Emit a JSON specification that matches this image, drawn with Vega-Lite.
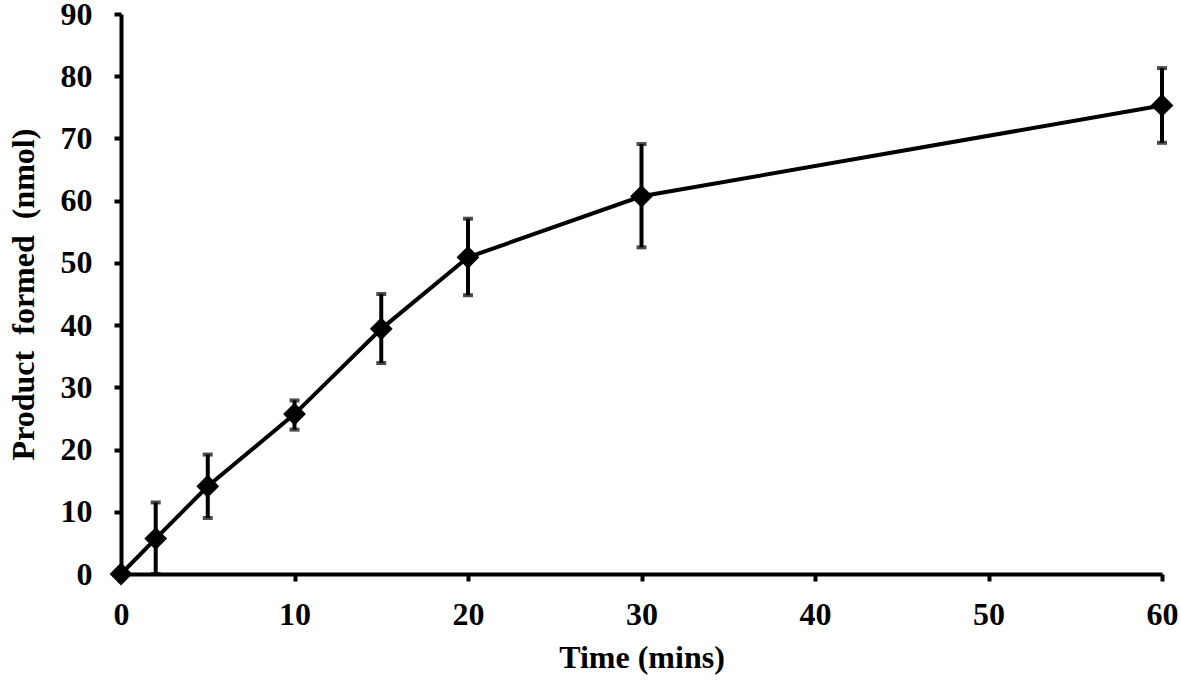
{
  "$schema": "https://vega.github.io/schema/vega-lite/v6.json",
  "width": 1041,
  "height": 560,
  "autosize": {"type": "none"},
  "padding": {"left": 121, "top": 14, "right": 19, "bottom": 107},
  "background": "white",
  "config": {
    "view": {"stroke": null},
    "axis": {
      "labelFont": "Liberation Serif",
      "titleFont": "Liberation Serif",
      "labelFontWeight": "bold",
      "titleFontWeight": "bold",
      "labelFontSize": 32,
      "titleFontSize": 32,
      "labelColor": "black",
      "titleColor": "black",
      "labelFlush": false,
      "labelOverlap": false,
      "domainColor": "black",
      "domainWidth": 4,
      "tickColor": "black",
      "tickWidth": 4,
      "tickSize": 7,
      "grid": false
    }
  },
  "data": {
    "values": [
      {"time": 0, "product": 0, "lo": 0, "hi": 0},
      {"time": 2, "product": 5.7, "lo": 0, "hi": 11.5},
      {"time": 5, "product": 14.1, "lo": 9.0, "hi": 19.2},
      {"time": 10, "product": 25.7, "lo": 23.2, "hi": 27.9},
      {"time": 15, "product": 39.4, "lo": 33.9, "hi": 45.0},
      {"time": 20, "product": 50.9, "lo": 44.8, "hi": 57.1},
      {"time": 30, "product": 60.7, "lo": 52.5, "hi": 69.1},
      {"time": 60, "product": 75.3, "lo": 69.3, "hi": 81.3}
    ]
  },
  "encoding": {
    "x": {
      "field": "time",
      "type": "quantitative",
      "scale": {"domain": [0, 60], "nice": false},
      "axis": {"title": "Time (mins)", "values": [0, 10, 20, 30, 40, 50, 60], "labelPadding": 18, "titlePadding": 12}
    }
  },
  "layer": [
    {
      "transform": [{"filter": "datum.time > 0"}],
      "mark": {
        "type": "errorbar",
        "color": "black",
        "rule": {"strokeWidth": 4, "color": "black"},
        "ticks": {"size": 10, "thickness": 4, "color": "black"}
      },
      "encoding": {
        "y": {
          "field": "lo",
          "type": "quantitative",
          "scale": {"domain": [0, 90], "nice": false},
          "axis": {"title": "Product\u00a0\u00a0formed\u00a0\u00a0(nmol)", "values": [0, 10, 20, 30, 40, 50, 60, 70, 80, 90], "labelPadding": 22, "titlePadding": 20}
        },
        "y2": {"field": "hi"}
      }
    },
    {
      "mark": {"type": "line", "color": "black", "strokeWidth": 4},
      "encoding": {
        "y": {"field": "product", "type": "quantitative", "axis": {"title": "Product\u00a0\u00a0formed\u00a0\u00a0(nmol)"}}
      }
    },
    {
      "mark": {"type": "point", "shape": "diamond", "filled": true, "color": "black", "size": 520, "opacity": 1},
      "encoding": {
        "y": {"field": "product", "type": "quantitative", "axis": {"title": "Product\u00a0\u00a0formed\u00a0\u00a0(nmol)"}}
      }
    }
  ]
}
